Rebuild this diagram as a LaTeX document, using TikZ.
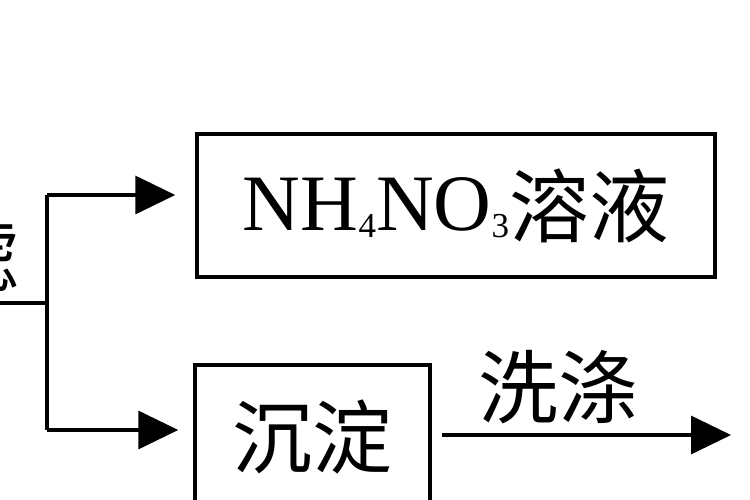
\documentclass[tikz,border=0pt]{standalone}
\usepackage{fontspec}
\setmainfont{Liberation Serif}
\newfontfamily\cjk{Noto Sans CJK SC}
\usetikzlibrary{arrows.meta}
\newcommand\chemsub[1]{\raisebox{-7pt}{\fontsize{35}{35}\selectfont #1}}
\tikzset{
  boxnode/.style={draw,line width=3.5pt,inner sep=0pt,font=\fontsize{80}{96}\selectfont},
  labelnode/.style={inner sep=0pt,font=\fontsize{80}{96}\selectfont\cjk},
  arrowline/.style={line width=3.5pt,-{Triangle[length=40pt,width=38pt]}},
}
\begin{document}
\begin{tikzpicture}[x=1pt,y=-1pt]
\useasboundingbox (0,0) rectangle (750,500);
\clip (0,0) rectangle (750,500);
\fill[white] (0,0) rectangle (750,500);
% boxes
\node[boxnode,minimum width=518pt,minimum height=143pt] (sol) at (456,205.5) {\raisebox{6pt}{NH\chemsub{4}NO\chemsub{3}}{\cjk 溶液}};
\node[boxnode,minimum width=235pt,minimum height=144pt] (ppt) at (312.5,437) {\cjk 沉淀};
% points of the split
\coordinate (in) at (-5,303);
\coordinate (j) at (47,303);
\coordinate (up) at (47,195);
\coordinate (dn) at (47,430);
\coordinate (out) at (731,435);
% labels
\node[labelnode,anchor=east] (filt) at (20,256) {过滤};
\node[labelnode] (wash) at (558,387) {洗涤};
% connectors
\draw[line width=3.5pt] (in) -- (j);
\draw[line width=3.5pt] (up) -- (dn);
\draw[arrowline,shorten >=20pt] (up) -- (up -| sol.west);
\draw[arrowline,shorten >=15pt] (dn) -- (dn -| ppt.west);
\draw[arrowline,shorten <=10pt] (ppt.east |- out) -- (out);
\end{tikzpicture}
\end{document}
